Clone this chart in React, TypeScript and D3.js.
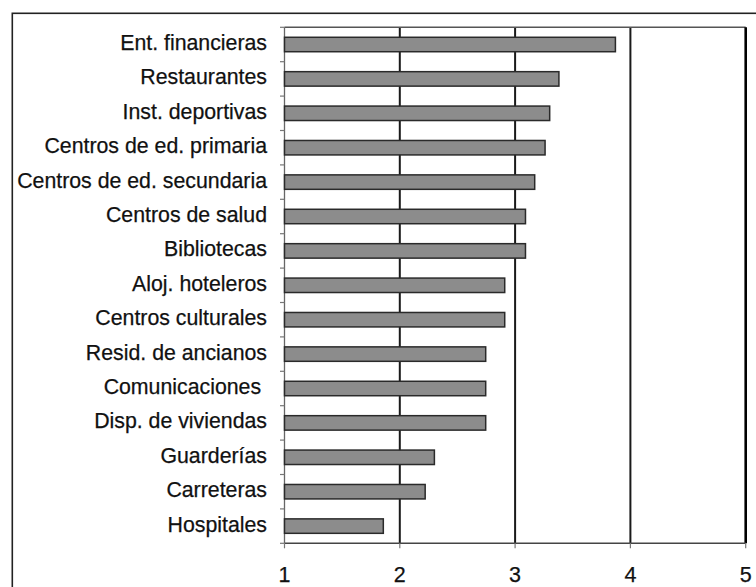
import React from "react";
import * as d3 from "d3";

const categories = [
  "Ent. financieras",
  "Restaurantes",
  "Inst. deportivas",
  "Centros de ed. primaria",
  "Centros de ed. secundaria",
  "Centros de salud",
  "Bibliotecas",
  "Aloj. hoteleros",
  "Centros culturales",
  "Resid. de ancianos",
  "Comunicaciones ",
  "Disp. de viviendas",
  "Guarderías",
  "Carreteras",
  "Hospitales",
];
const values = [3.87, 3.38, 3.3, 3.26, 3.17, 3.09, 3.09, 2.91, 2.91, 2.745, 2.745, 2.745, 2.3, 2.22, 1.857];
const xTicks = [1, 2, 3, 4, 5];
const gridTicks = [2, 3, 4];

export default function App() {
  const W = 756;
  const H = 587;
  const left = 284.5;
  const right = 745.7;
  const top = 27.3;
  const bottom = 543.3;
  const x = d3.scaleLinear().domain([1, 5]).range([left, right]);
  const y = d3.scaleBand<string>().domain(categories).range([top, bottom]).paddingInner(0.58).paddingOuter(0.29);
  const bandEdges = d3.range(categories.length + 1).map((i) => top + ((bottom - top) / categories.length) * i);
  const font = "'Liberation Sans', Arial, sans-serif";

  return (
    <svg
      width={W}
      height={H}
      style={{ position: "fixed", left: 0, top: 0, background: "#fff" }}
      fontFamily={font}
    >
      <rect x={0} y={0} width={W} height={H} fill="#fff" />
      {/* outer frame */}
      <rect x={12.3} y={13.3} width={W + 10} height={H + 10} fill="none" stroke="#222" strokeWidth={1.6} />
      {/* gridlines */}
      {gridTicks.map((t) => (
        <line key={"g" + t} x1={x(t)} x2={x(t)} y1={top} y2={bottom} stroke="#1a1a1a" strokeWidth={2} />
      ))}
      {/* plot frame */}
      <line x1={left} x2={right} y1={top} y2={top} stroke="#555" strokeWidth={1.5} />
      <line x1={right} x2={right} y1={top} y2={bottom} stroke="#000" strokeWidth={2.6} />
      <line x1={left} x2={right} y1={bottom} y2={bottom} stroke="#444" strokeWidth={1.6} />
      <line x1={left} x2={left} y1={top} y2={bottom} stroke="#666" strokeWidth={1.3} />
      {/* left ticks */}
      {bandEdges.map((e, i) => (
        <line key={"lt" + i} x1={left - 4.5} x2={left} y1={e} y2={e} stroke="#777" strokeWidth={1.2} />
      ))}
      {/* bottom ticks */}
      {xTicks.map((t) => (
        <line key={"bt" + t} x1={x(t)} x2={x(t)} y1={bottom} y2={bottom + 5} stroke="#777" strokeWidth={1.2} />
      ))}
      {/* bars */}
      {categories.map((c, i) => (
        <rect
          key={c}
          x={x(1)}
          y={y(c)!}
          width={x(values[i]) - x(1)}
          height={y.bandwidth()}
          fill="#8c8c8c"
          stroke="#2a2a2a"
          strokeWidth={1.5}
        />
      ))}
      {/* category labels */}
      {categories.map((c) => (
        <text
          key={"l" + c}
          x={left - 17.5}
          y={y(c)! + y.bandwidth() / 2 + 5.5}
          textAnchor="end"
          fontSize={21.3}
          fill="#111"
          stroke="#111"
          strokeWidth={0.25}
          style={{ whiteSpace: "pre" }}
        >
          {c}
        </text>
      ))}
      {/* x tick labels */}
      {xTicks.map((t) => (
        <text
          key={"xl" + t}
          x={x(t)}
          y={582}
          textAnchor="middle"
          fontSize={21.5}
          fill="#111"
          stroke="#111"
          strokeWidth={0.25}
        >
          {t}
        </text>
      ))}
    </svg>
  );
}
